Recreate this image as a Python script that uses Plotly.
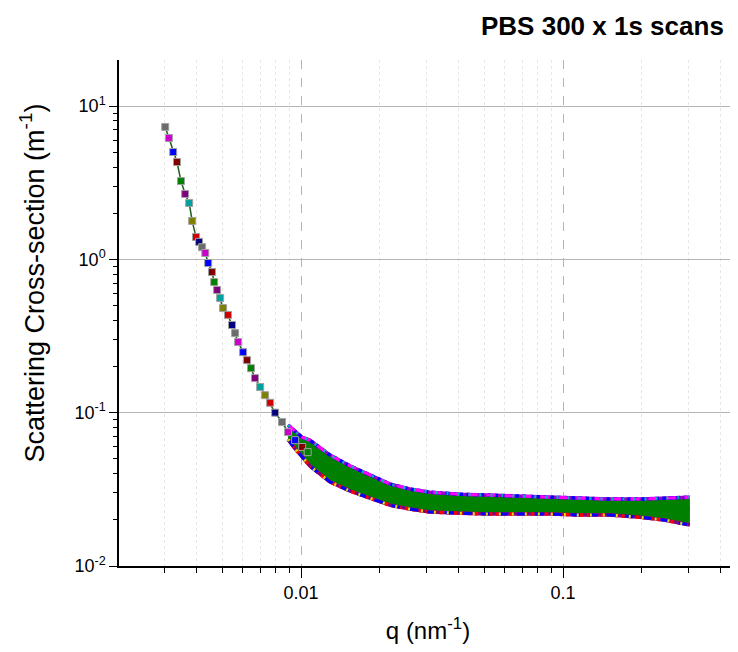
import plotly.graph_objects as go

# ---- data (q in nm^-1, cross-section in m^-1) ----
q_steep = [0.00303, 0.00313, 0.00325, 0.00336, 0.00348, 0.00361, 0.00374, 0.00384,
           0.00397, 0.00408, 0.00419, 0.00431, 0.00442, 0.00457, 0.00466, 0.00478,
           0.00491, 0.00504, 0.00526, 0.00545, 0.00560, 0.00575, 0.00601, 0.00622,
           0.00644, 0.00667, 0.00698, 0.00729, 0.00762, 0.00796, 0.00846, 0.00892,
           0.00949, 0.0101, 0.0106]
i_steep = [7.30, 6.18, 5.01, 4.31, 3.24, 2.67, 2.33, 1.78,
           1.40, 1.30, 1.20, 1.10, 0.946, 0.826, 0.711, 0.631,
           0.560, 0.481, 0.434, 0.373, 0.330, 0.289, 0.248, 0.220,
           0.195, 0.168, 0.147, 0.130, 0.116, 0.100, 0.0869, 0.0747,
           0.0662, 0.0597, 0.0553]

q_band = [0.00892, 0.00949, 0.0101, 0.0108, 0.0129, 0.0154, 0.0183, 0.0219, 0.0260,
          0.0310, 0.0405, 0.0527, 0.0686, 0.0893, 0.116, 0.151, 0.197, 0.246, 0.305]
i_hi = [0.0830, 0.0760, 0.0690, 0.0662, 0.0529, 0.0449, 0.0392, 0.0342, 0.0318,
        0.0303, 0.0294, 0.0290, 0.0286, 0.0281, 0.0277, 0.0273, 0.0273, 0.0277, 0.0281]
i_mid = [0.0747, 0.0662, 0.0597, 0.0545, 0.0435, 0.0374, 0.0332, 0.0294, 0.0273,
         0.0261, 0.0257, 0.0253, 0.0249, 0.0246, 0.0242, 0.0242, 0.0239, 0.0239, 0.0235]
i_lo = [0.0670, 0.0580, 0.0515, 0.0449, 0.0353, 0.0308, 0.0277, 0.0249, 0.0235,
        0.0225, 0.0221, 0.0218, 0.0218, 0.0218, 0.0215, 0.0215, 0.0208, 0.0199, 0.0185]

title_text = "PBS 300 x 1s scans"
x_title = "q (nm<sup>-1</sup>)"
y_title = "Scattering Cross-section (m<sup>-1</sup>)"
x_tickvals = [0.01, 0.1]
x_ticktext = ["0.01", "0.1"]
y_tickvals = [0.01, 0.1, 1, 10]
y_ticktext = ["10<sup>-2</sup>", "10<sup>-1</sup>", "10<sup>0</sup>", "10<sup>1</sup>"]

# ---- styling ----
FONT = "Liberation Sans, Arial, sans-serif"
GREEN = "#008000"
palette = ["#6b6b6b", "#cc00cc", "#0000ff", "#800000", "#008000", "#800080",
           "#00a0a0", "#808000", "#d00000", "#000080"]
marker_colors = [palette[k % len(palette)] for k in range(len(q_steep))]

fig = go.Figure()

# band: lower edge then upper edge filled
fig.add_trace(go.Scatter(x=q_band, y=i_lo, mode="lines", line=dict(width=0, color=GREEN),
                         showlegend=False, hoverinfo="skip"))
fig.add_trace(go.Scatter(x=q_band, y=i_hi, mode="lines", line=dict(width=0, color=GREEN),
                         fill="tonexty", fillcolor=GREEN, showlegend=False, hoverinfo="skip"))

# speckled edges of the band (colour overlays)
edge_styles = [("#9900cc", "solid", 3.5), ("#0000ff", "dot", 3.5), ("#ff00ff", "dash", 3),
               ("#00b0c0", "2px,9px", 3)]
for col, dash, w in edge_styles:
    fig.add_trace(go.Scatter(x=q_band, y=i_hi, mode="lines",
                             line=dict(width=w, color=col, dash=dash),
                             showlegend=False, hoverinfo="skip"))
edge_styles_lo = [("#800080", "solid", 3.5), ("#ff0000", "dot", 3.5), ("#0000ff", "dash", 3),
                  ("#e0e000", "2px,11px", 3)]
for col, dash, w in edge_styles_lo:
    fig.add_trace(go.Scatter(x=q_band, y=i_lo, mode="lines",
                             line=dict(width=w, color=col, dash=dash),
                             showlegend=False, hoverinfo="skip"))

# green centre of band
fig.add_trace(go.Scatter(x=q_band, y=i_mid, mode="lines",
                         line=dict(width=4, color=GREEN),
                         showlegend=False, hoverinfo="skip"))

# steep part: markers of overlapping scans
fig.add_trace(go.Scatter(x=q_steep, y=i_steep, mode="lines+markers",
                         line=dict(width=1.5, color="#1f5f1f"),
                         marker=dict(symbol="square", size=7, color=marker_colors,
                                     line=dict(width=1, color="#a0a0a0")),
                         showlegend=False))

axis_common = dict(
    type="log",
    showline=True, linecolor="black", linewidth=1.5,
    ticks="outside", tickcolor="black", tickwidth=1.2,
    tickfont=dict(family=FONT, size=18, color="black"),
    zeroline=False, mirror=False,
)

x_minor = [k * 10 ** e for e in (-3, -2, -1) for k in range(2, 10)]
y_minor = [k * 10 ** e for e in (-2, -1, 0, 1) for k in range(2, 10)]

fig.update_xaxes(
    **axis_common,
    range=[-2.695, -0.336],
    tickmode="array", tickvals=x_tickvals, ticktext=x_ticktext, ticklen=10,
    showgrid=True, gridcolor="#b4b4b4", griddash="dash", gridwidth=1,
    minor=dict(tickmode="array", tickvals=x_minor, ticks="outside", ticklen=5,
               tickcolor="black", tickwidth=1, showgrid=True, gridcolor="#e6e6e6",
               griddash="dot", gridwidth=1),
    title=dict(text=x_title, font=dict(family=FONT, size=24, color="black"), standoff=20),
)
fig.update_yaxes(
    **axis_common,
    range=[-2, 1.30],
    tickmode="array", tickvals=y_tickvals, ticktext=y_ticktext, ticklen=8,
    showgrid=True, gridcolor="#b4b4b4", gridwidth=1,
    minor=dict(tickmode="array", tickvals=y_minor, ticks="outside", ticklen=4,
               tickcolor="black", tickwidth=1, showgrid=False),
)

# y-axis title placed as a rotated annotation (sits a little above the plot centre)
fig.add_annotation(
    text=y_title, textangle=-90, xref="paper", yref="paper", x=-0.141, y=0.56,
    xanchor="center", yanchor="middle", showarrow=False,
    font=dict(family=FONT, size=27, color="black"),
)

fig.add_annotation(
    text="<b>" + title_text + "</b>", xref="paper", yref="paper", x=0.982, y=1,
    xanchor="right", yanchor="bottom", yshift=17, showarrow=False,
    font=dict(family=FONT, size=26, color="black"),
)

# the page adds an 8px body margin, so the figure is sized to fit the window
fig.update_layout(
    width=730, height=644,
    margin=dict(l=111, r=1, t=52, b=86, autoexpand=False),
    paper_bgcolor="white", plot_bgcolor="white",
    showlegend=False,
)

fig.write_html("out.html")
